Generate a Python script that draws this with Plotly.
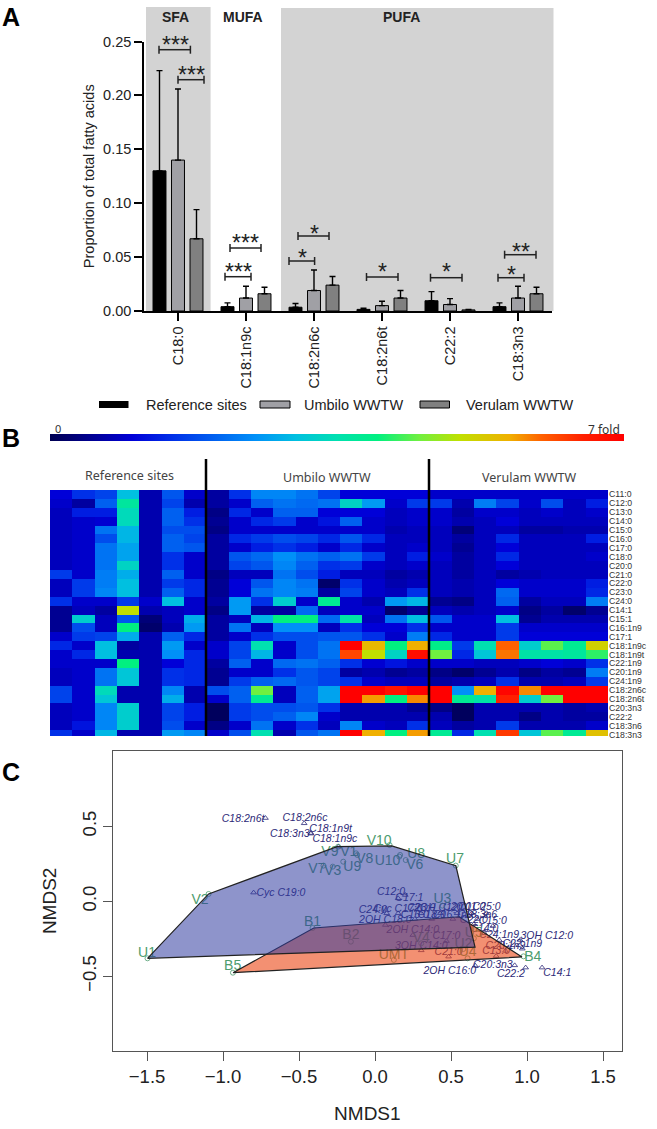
import plotly.graph_objects as go

W = 657
H = 1129

# panel A
acids = ["C18:0", "C18:1n9c", "C18:2n6c", "C18:2n6t", "C22:2", "C18:3n3"]
ref_means = [0.130, 0.004, 0.0035, 0.0015, 0.0095, 0.004]
ref_tops = [0.223, 0.0075, 0.007, 0.0025, 0.018, 0.0075]
umb_means = [0.140, 0.012, 0.019, 0.005, 0.006, 0.012]
umb_tops = [0.206, 0.023, 0.038, 0.009, 0.0115, 0.023]
ver_means = [0.067, 0.016, 0.024, 0.012, 0.001, 0.016]
ver_tops = [0.094, 0.022, 0.032, 0.019, 0.0015, 0.022]

# panel B, fold change per fatty acid and site
fatty_rows = ["C11:0", "C12:0", "C13:0", "C14:0", "C15:0", "C16:0", "C17:0", "C18:0", "C20:0", "C21:0",
              "C22:0", "C23:0", "C24:0", "C14:1", "C15:1", "C16:1n9", "C17:1", "C18:1n9c", "C18:1n9t",
              "C22:1n9", "C20:1n9", "C24:1n9", "C18:2n6c", "C18:2n6t", "C20:3n3", "C22:2", "C18:3n6", "C18:3n3"]
ref_sites = [
    [1.0, 1.5, 1.7, 3.0, 0.7, 1.9, 0.9],
    [0.9, 0.6, 2.0, 3.7, 0.7, 1.7, 0.7],
    [0.8, 1.3, 1.3, 3.4, 0.7, 2.0, 1.3],
    [0.8, 0.9, 0.95, 3.4, 0.7, 2.0, 1.5],
    [0.8, 0.9, 2.2, 2.9, 0.7, 1.8, 1.8],
    [0.8, 0.9, 1.8, 2.9, 0.7, 2.0, 1.7],
    [0.8, 0.9, 2.2, 2.7, 0.7, 2.0, 1.9],
    [0.8, 0.9, 2.2, 2.7, 0.7, 1.5, 0.9],
    [0.8, 0.9, 2.2, 3.3, 0.7, 1.5, 0.9],
    [1.6, 0.9, 2.3, 2.8, 0.7, 2.0, 0.9],
    [0.8, 1.6, 2.3, 3.0, 0.7, 1.6, 1.4],
    [0.8, 1.6, 2.4, 3.0, 0.7, 2.0, 1.4],
    [1.5, 0.9, 0.9, 1.6, 0.9, 3.0, 0.9],
    [0.5, 0.8, 0.6, 5.0, 0.7, 0.8, 0.9],
    [0.5, 3.2, 0.8, 1.9, 0.3, 0.8, 2.8],
    [0.5, 1.8, 0.8, 4.0, 0.2, 0.7, 2.6],
    [0.9, 1.6, 1.7, 2.8, 0.7, 2.0, 1.4],
    [1.4, 0.9, 3.0, 0.6, 0.7, 2.6, 0.9],
    [0.9, 1.4, 3.0, 0.7, 0.7, 2.5, 1.4],
    [0.9, 0.9, 0.9, 4.0, 0.7, 1.0, 1.4],
    [0.8, 0.9, 2.2, 3.1, 0.7, 1.5, 1.4],
    [0.8, 0.9, 2.2, 3.1, 0.7, 1.5, 1.4],
    [1.7, 0.9, 3.4, 0.7, 0.7, 2.4, 0.7],
    [1.7, 0.9, 3.1, 0.7, 0.7, 2.8, 0.7],
    [0.8, 0.9, 2.4, 3.2, 0.7, 1.7, 1.3],
    [0.8, 0.9, 2.4, 3.2, 0.7, 1.7, 1.3],
    [0.8, 1.2, 2.4, 3.2, 0.7, 1.8, 0.9],
    [1.5, 0.9, 2.9, 0.7, 0.7, 2.6, 2.4],
]
umbilo_sites = [
    [0.6, 1.5, 2.4, 2.4, 2.2, 1.7, 1.0, 1.0, 1.0, 1.0],
    [0.6, 0.9, 2.0, 2.2, 2.1, 2.2, 3.3, 2.6, 0.9, 1.6],
    [0.4, 1.4, 0.9, 2.0, 2.0, 1.0, 1.0, 1.0, 0.8, 0.9],
    [0.5, 0.9, 1.4, 1.6, 0.9, 1.2, 2.0, 0.9, 0.8, 0.9],
    [0.4, 0.9, 0.9, 0.9, 0.9, 0.9, 0.9, 0.9, 0.7, 0.8],
    [0.6, 1.4, 1.6, 1.8, 1.7, 1.4, 1.9, 1.4, 0.8, 0.8],
    [0.6, 0.9, 1.3, 1.5, 1.3, 0.9, 1.4, 0.9, 0.8, 0.9],
    [0.6, 1.9, 2.1, 2.5, 2.2, 2.0, 2.2, 1.6, 0.8, 1.3],
    [0.6, 1.7, 1.9, 2.4, 2.0, 1.5, 1.6, 0.9, 0.8, 0.9],
    [0.4, 0.8, 0.8, 2.2, 1.8, 1.3, 0.8, 0.8, 0.6, 0.7],
    [0.5, 1.0, 1.9, 2.4, 2.2, 0.2, 1.5, 0.9, 0.7, 0.8],
    [0.5, 1.0, 2.2, 2.4, 2.3, 0.6, 1.7, 0.9, 0.8, 1.5],
    [0.6, 2.6, 1.5, 3.2, 0.9, 3.8, 0.9, 0.7, 2.6, 2.9],
    [0.4, 2.6, 0.6, 0.6, 2.1, 0.8, 0.9, 0.9, 0.2, 0.5],
    [0.6, 0.8, 2.9, 4.0, 4.0, 2.1, 3.6, 0.8, 2.2, 3.0],
    [0.6, 2.2, 0.8, 2.5, 2.5, 0.8, 1.5, 1.0, 1.0, 1.5],
    [0.6, 0.9, 1.5, 1.8, 1.8, 1.9, 1.9, 1.5, 0.9, 2.3],
    [0.9, 1.7, 3.5, 0.9, 1.8, 2.2, 7.0, 5.5, 4.0, 5.6],
    [0.9, 1.7, 2.9, 0.9, 1.8, 2.2, 6.2, 5.0, 3.3, 6.8],
    [0.6, 2.0, 0.9, 2.1, 2.2, 2.0, 1.5, 0.95, 1.2, 0.9],
    [0.5, 0.9, 0.9, 1.5, 1.9, 1.7, 0.6, 0.7, 0.5, 0.6],
    [0.5, 1.6, 2.0, 2.1, 1.9, 1.7, 1.5, 0.9, 0.8, 0.8],
    [1.8, 2.0, 4.5, 0.8, 2.0, 2.7, 7.0, 7.0, 6.7, 7.0],
    [0.9, 2.0, 3.8, 0.8, 2.0, 2.7, 7.0, 5.7, 4.0, 5.8],
    [0.1, 1.6, 1.8, 1.8, 1.9, 1.5, 0.7, 0.7, 0.7, 0.5],
    [0.1, 1.6, 1.8, 2.0, 2.4, 0.9, 0.7, 0.7, 0.7, 0.7],
    [0.4, 0.9, 2.2, 0.9, 1.5, 0.8, 2.4, 0.9, 0.8, 1.5],
    [0.9, 1.8, 3.5, 0.7, 1.9, 2.2, 7.0, 5.6, 4.0, 5.7],
]
verulam_sites = [
    [0.9, 0.9, 0.9, 0.9, 0.9, 0.9, 0.9, 0.9],
    [1.6, 0.7, 2.3, 1.7, 0.9, 1.8, 0.8, 1.3],
    [0.9, 0.6, 0.9, 0.9, 0.8, 0.9, 0.8, 0.9],
    [0.9, 0.7, 0.8, 1.0, 0.8, 0.8, 0.8, 0.8],
    [0.8, 0.3, 0.8, 0.8, 0.6, 0.6, 0.7, 0.7],
    [0.8, 0.6, 0.8, 1.4, 0.8, 0.8, 0.8, 1.3],
    [0.8, 0.5, 0.8, 1.0, 0.8, 0.8, 0.8, 0.8],
    [0.9, 0.6, 0.8, 1.4, 0.8, 0.8, 0.8, 0.9],
    [0.8, 0.6, 0.8, 1.0, 0.8, 0.8, 0.8, 0.8],
    [0.8, 0.6, 0.8, 0.6, 0.7, 0.8, 0.8, 0.8],
    [0.8, 0.7, 0.8, 1.0, 0.9, 0.9, 0.9, 1.3],
    [0.8, 0.7, 0.8, 2.1, 0.9, 0.9, 0.9, 1.4],
    [0.5, 0.4, 0.8, 2.0, 0.6, 0.8, 0.8, 2.3],
    [0.8, 0.7, 0.8, 0.9, 0.4, 0.6, 0.2, 0.5],
    [1.9, 0.9, 0.9, 3.0, 0.5, 0.7, 0.7, 0.7],
    [0.9, 0.9, 0.9, 1.6, 0.9, 0.9, 0.9, 0.9],
    [1.4, 0.9, 0.9, 1.6, 1.0, 1.0, 1.0, 1.0],
    [3.9, 1.6, 3.5, 6.0, 3.2, 4.4, 3.8, 5.2],
    [4.5, 1.4, 3.1, 5.9, 3.6, 3.6, 3.7, 4.2],
    [0.9, 0.9, 0.8, 0.8, 0.9, 1.0, 0.9, 1.5],
    [0.4, 0.2, 0.5, 0.7, 0.4, 0.6, 0.5, 2.3],
    [0.6, 0.7, 0.8, 1.5, 0.7, 0.7, 0.8, 1.6],
    [7.0, 2.5, 5.6, 6.9, 5.8, 7.0, 7.0, 7.0],
    [7.0, 3.8, 3.6, 6.5, 3.2, 4.5, 7.0, 7.0],
    [0.4, 0.1, 0.7, 0.7, 0.7, 0.7, 0.6, 0.7],
    [0.7, 0.1, 0.7, 0.7, 0.4, 0.7, 0.6, 0.6],
    [0.8, 0.6, 0.7, 1.6, 0.7, 0.7, 0.7, 0.9],
    [3.8, 1.4, 3.5, 6.3, 3.1, 4.4, 3.8, 5.4],
]

# panel C, ordination scores and where each name sits
site_names = ["U1", "V2", "V9", "V1", "V8", "U10", "U8", "V6", "V10", "U7", "V7", "V3", "U9", "U3",
              "B1", "B2", "B5", "UMT", "U4", "B4", "U2", "V4", "U5"]
site_x = [-1.497, -1.095, -0.242, -0.125, -0.117, 0.160, 0.165, 0.202, 0.096, 0.531, -0.339, -0.278, -0.209, 0.443,
          -0.411, -0.159, -0.935, 0.124, 0.609, 0.977, 0.581, 0.304, 0.650]
site_y = [-0.380, 0.049, 0.364, 0.320, 0.309, 0.298, 0.309, 0.275, 0.375, 0.238, 0.238, 0.231, 0.264, -0.029,
          -0.178, -0.269, -0.476, -0.391, -0.380, -0.367, -0.318, -0.280, -0.247]
site_label_x = [-1.500, -1.151, -0.297, -0.173, -0.067, 0.082, 0.271, 0.262, 0.027, 0.526, -0.383, -0.278, -0.150,
                0.443, -0.411, -0.159, -0.937, 0.124, 0.609, 1.038, 0.581, 0.304, 0.650]
site_label_y = [-0.347, 0.004, 0.324, 0.326, 0.280, 0.264, 0.313, 0.238, 0.398, 0.282, 0.209, 0.202, 0.224,
                0.013, -0.142, -0.229, -0.433, -0.360, -0.342, -0.373, -0.287, -0.247, -0.213]

fa_names = ["C18:2n6t", "C18:2n6c", "C18:1n9t", "C18:3n3", "C18:1n9c", "Cyc C19:0", "C12:0", "C17:1", "C24:0",
            "Cyc C17:0", "C23:0", "2OH C12:0", "C20:0", "C11:0", "C25:0", "C16:0", "C18:0", "C16:1n9", "C18:3n6",
            "2OH C18:0", "C22:0", "C15:0", "2OH C14:0", "C14:0", "C17:0", "C24:1n9", "3OH C12:0", "C22:1n9",
            "C20:1n9", "3OH C14:0", "C21:0", "C13:0", "2OH C16:0", "C20:3n3", "C22:2", "C14:1"]
fa_x = [-0.721, -0.466, -0.422, -0.422, -0.242, -0.799, 0.199, 0.152, 0.077,
        0.152, 0.304, 0.429, 0.540, 0.636, 0.734, 0.262, 0.373, 0.512, 0.673,
        0.068, 0.650, 0.775, 0.249, 0.720, 0.470, 0.817, 0.955, 0.969,
        0.858, 0.304, 0.484, 0.797, 0.659, 0.919, 0.991, 1.099]
fa_y = [0.555, 0.520, 0.455, 0.451, 0.364, 0.058, 0.042, 0.020, -0.080,
        -0.080, -0.080, -0.080, -0.080, -0.080, -0.080, -0.118, -0.118, -0.118, -0.118,
        -0.158, -0.153, -0.165, -0.225, -0.213, -0.265, -0.258, -0.258, -0.316,
        -0.331, -0.327, -0.369, -0.365, -0.429, -0.427, -0.442, -0.442]
fa_label_x = [-0.868, -0.461, -0.292, -0.561, -0.264, -0.619, 0.105, 0.226, -0.015,
              0.152, 0.304, 0.429, 0.540, 0.636, 0.734, 0.262, 0.373, 0.512, 0.673,
              0.068, 0.650, 0.775, 0.249, 0.720, 0.470, 0.817, 1.130, 0.969,
              0.858, 0.304, 0.484, 0.797, 0.492, 0.775, 0.894, 1.199]
fa_label_y = [0.544, 0.555, 0.480, 0.449, 0.411, 0.055, 0.062, 0.020, -0.060,
              -0.053, -0.047, -0.047, -0.042, -0.042, -0.042, -0.091, -0.091, -0.091, -0.091,
              -0.129, -0.125, -0.136, -0.196, -0.185, -0.236, -0.229, -0.236, -0.287,
              -0.302, -0.298, -0.340, -0.336, -0.465, -0.427, -0.487, -0.482]

hull_wwtw_x = [-1.497, -1.095, -0.250, 0.110, 0.532, 0.658, -1.497]
hull_wwtw_y = [-0.380, 0.049, 0.364, 0.369, 0.237, -0.306, -0.380]
hull_ref_x = [-0.934, -0.403, 0.553, 0.967, -0.934]
hull_ref_y = [-0.476, -0.178, -0.103, -0.371, -0.476]

# fold colours
fold_scale = [[0.0, "#000050"], [0.086, "#0000a0"], [0.143, "#0000d8"], [0.214, "#0030e8"], [0.286, "#0060f0"],
              [0.357, "#0090f8"], [0.429, "#00c0e0"], [0.5, "#00e0b0"], [0.571, "#00f080"], [0.643, "#70f040"],
              [0.714, "#c0e000"], [0.8, "#f0b000"], [0.857, "#ff6000"], [0.929, "#ff2000"], [1.0, "#ff0000"]]


def xp(px):
    return px / W


def yp(py):
    return 1 - py / H


fig = go.Figure()


def add_group(name, means, tops, color):
    fig.add_trace(go.Bar(
        x=acids, y=means, name=name, showlegend=False,
        marker=dict(color=color, line=dict(color="black", width=1)),
        error_y=dict(type="data", symmetric=False,
                     array=[t - m for t, m in zip(tops, means)],
                     arrayminus=[0] * len(means),
                     color="black", thickness=1.4, width=3),
    ))


add_group("Reference sites", ref_means, ref_tops, "black")
add_group("Umbilo WWTW", umb_means, umb_tops, "#a0a0a5")
add_group("Verulam WWTW", ver_means, ver_tops, "#808080")

heat = [a + b + c for a, b, c in zip(ref_sites, umbilo_sites, verulam_sites)]
fig.add_trace(go.Heatmap(
    z=heat, xaxis="x2", yaxis="y2", zmin=0, zmax=7, colorscale=fold_scale,
    colorbar=dict(orientation="h", x=xp(50), xanchor="left", y=yp(441), yanchor="bottom",
                  len=574 / W, thickness=7, outlinewidth=0, xpad=0, ypad=0,
                  showticklabels=False, ticks=""),
))

# points and names first so the hulls tint them, like the original
fig.add_trace(go.Scatter(
    x=fa_x, y=fa_y, mode="markers", xaxis="x3", yaxis="y3", showlegend=False,
    marker=dict(symbol="triangle-up-open", size=5, color="#2d2a78", line=dict(width=0.8)),
))
fig.add_trace(go.Scatter(
    x=fa_label_x, y=fa_label_y, text=fa_names, mode="text", xaxis="x3", yaxis="y3", showlegend=False,
    textposition="middle center",
    textfont=dict(family="Liberation Sans", size=10.5, color="#2d2a78", style="italic"),
))
fig.add_trace(go.Scatter(
    x=site_x, y=site_y, mode="markers", xaxis="x3", yaxis="y3", showlegend=False,
    marker=dict(symbol="circle-open", size=5, color="#4d9c6e", line=dict(width=0.8)),
))
fig.add_trace(go.Scatter(
    x=site_label_x, y=site_label_y, text=site_names, mode="text", xaxis="x3", yaxis="y3", showlegend=False,
    textposition="middle center",
    textfont=dict(family="Liberation Sans", size=14, color="#4d9c6e"),
))
fig.add_trace(go.Scatter(
    x=hull_ref_x, y=hull_ref_y, mode="lines", xaxis="x3", yaxis="y3", showlegend=False,
    fill="toself", fillcolor="rgba(235,70,20,0.6)", line=dict(color="#222222", width=1.2),
))
fig.add_trace(go.Scatter(
    x=hull_wwtw_x, y=hull_wwtw_y, mode="lines", xaxis="x3", yaxis="y3", showlegend=False,
    fill="toself", fillcolor="rgba(50,60,160,0.55)", line=dict(color="#222222", width=1.2),
))

shapes = []


def rect(x0, y0, x1, y1, fill, line=None, layer="below"):
    shapes.append(dict(type="rect", xref="paper", yref="paper", layer=layer,
                       x0=xp(x0), x1=xp(x1), y0=yp(y0), y1=yp(y1), fillcolor=fill,
                       line=dict(color=line or fill, width=1 if line else 0)))


def seg(x0, y0, x1, y1, width=1.5, color="#222222"):
    shapes.append(dict(type="line", xref="paper", yref="paper",
                       x0=xp(x0), x1=xp(x1), y0=yp(y0), y1=yp(y1),
                       line=dict(color=color, width=width)))


rect(146, 7, 210.6, 311, "#d3d3d3")
rect(281, 8, 553.5, 311, "#d3d3d3")

notes = []


def note(text, x, y, size, color="#222222", bold=False, family="Liberation Sans"):
    notes.append(dict(text=f"<b>{text}</b>" if bold else text, x=xp(x), y=yp(y), xref="paper", yref="paper",
                      showarrow=False, xanchor="center", yanchor="middle",
                      font=dict(family=family, size=size, color=color)))


# significance brackets: left, right, height, star x, star y, stars
brackets = [(159, 190.4, 49.7, 175, 45, "***"), (178, 204, 79.7, 191, 75, "***"),
            (225, 251, 276.7, 238, 272, "***"), (230, 261, 248, 245.6, 243, "***"),
            (289, 314.6, 261, 302, 258, "*"), (298, 329, 236, 314, 234, "*"),
            (366.5, 398, 277, 382, 272, "*"), (430.5, 462, 277.7, 446.5, 272, "*"),
            (498, 524, 277.7, 511, 275, "*"), (504.6, 536, 254.7, 520.6, 252, "**")]
for left, right, h, sx, sy, stars in brackets:
    seg(left, h, right, h)
    seg(left, h - 4, left, h + 4)
    seg(right, h - 4, right, h + 4)
    note(stars, sx, sy, 23)

note("SFA", 175, 17, 14, bold=True)
note("MUFA", 243, 17, 14, bold=True)
note("PUFA", 401, 17, 14, bold=True)
note("A", 11, 17, 25, "black", bold=True)
note("B", 11, 438, 25, "black", bold=True)
note("C", 11, 772, 25, "black", bold=True)

rect(99, 401, 128.5, 408, "black", layer="above")
rect(260, 401, 290, 408, "#a0a0a5", "black", layer="above")
rect(420, 401, 449.5, 408, "#808080", "black", layer="above")
note("Reference sites", 196.5, 405, 14.5)
note("Umbilo WWTW", 353, 405, 14.5)
note("Verulam WWTW", 519, 405, 14.5)

note("0", 58, 428, 11, "#333333", family="Noto Sans")
note("7 fold", 604, 429, 12, "#333333", family="Noto Sans")
note("Reference sites", 129, 475, 12.5, "#444444", family="Noto Sans")
note("Umbilo WWTW", 327, 477, 12.5, "#444444", family="Noto Sans")
note("Verulam WWTW", 529, 477, 12.5, "#444444", family="Noto Sans")
seg(206, 459, 206, 736, width=2.5, color="black")
seg(429, 459, 429, 736, width=2.5, color="black")

axis_font = dict(family="Liberation Sans", size=14.5, color="#222222")
c_font = dict(family="Liberation Sans", size=18.5, color="#222222")
c_title = dict(family="Liberation Sans", size=19, color="#222222")

fig.update_layout(
    width=W, height=H, autosize=False, margin=dict(l=0, r=0, t=0, b=0, autoexpand=False),
    paper_bgcolor="white", plot_bgcolor="rgba(0,0,0,0)", showlegend=False,
    barmode="group", bargap=0.184, bargroupgap=0.3,
    shapes=shapes, annotations=notes,
    xaxis=dict(domain=[xp(144), xp(552)], anchor="y", type="category", range=[-0.5, 5.5],
               showline=True, linecolor="black", linewidth=1.5, ticks="outside", ticklen=8, tickwidth=1.5,
               tickcolor="black", tickangle=-90, tickfont=axis_font, showgrid=False, zeroline=False),
    yaxis=dict(domain=[yp(311), yp(41.5)], anchor="x", range=[0, 0.25], tickvals=[0, 0.05, 0.10, 0.15, 0.20, 0.25],
               tickformat=".2f", showline=True, linecolor="black", linewidth=1.5, ticks="outside", ticklen=8,
               tickwidth=1.5, tickcolor="black", tickfont=axis_font, showgrid=False, zeroline=False,
               title=dict(text="Proportion of total fatty acids", font=axis_font, standoff=5)),
    xaxis2=dict(domain=[xp(50), xp(608)], anchor="y2", range=[-0.5, 24.5], visible=False),
    yaxis2=dict(domain=[yp(736), yp(490)], anchor="x2", side="right", range=[27.17, -0.5],
                tickvals=list(range(len(fatty_rows))), ticktext=fatty_rows, ticks="", showline=False,
                showgrid=False, zeroline=False, tickfont=dict(family="Liberation Sans", size=8.7, color="#333333")),
    xaxis3=dict(domain=[xp(113), xp(621.7)], anchor="y3", range=[-1.724, 1.623],
                tickvals=[-1.5, -1, -0.5, 0, 0.5, 1, 1.5], tickformat=".1f", showline=True, mirror=True,
                linecolor="#555555", linewidth=1, ticks="outside", ticklen=9, tickcolor="#555555",
                tickfont=c_font, showgrid=False, zeroline=False,
                title=dict(text="NMDS1", font=c_title, standoff=20)),
    yaxis3=dict(domain=[yp(1050.7), yp(751)], anchor="x3", range=[-0.996, 1.002],
                tickvals=[-0.5, 0, 0.5], tickformat=".1f", tickangle=-90, showline=True, mirror=True,
                linecolor="#555555", linewidth=1, ticks="outside", ticklen=9, tickcolor="#555555",
                tickfont=c_font, showgrid=False, zeroline=False,
                title=dict(text="NMDS2", font=c_title, standoff=16)),
)

fig.write_html("out.html", config={"displayModeBar": False},
               post_script="document.body.style.margin = '0';")
